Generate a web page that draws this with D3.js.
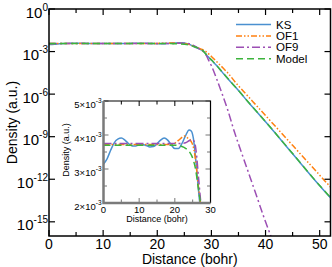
<!DOCTYPE html>
<html>
<head>
<meta charset="utf-8">
<script src="https://cdn.jsdelivr.net/npm/d3@7"></script>
<style>
  body { margin: 0; background: #fff; }
  svg { display: block; font-family: "Liberation Sans", Arial, sans-serif; }
  .frame { fill: none; stroke: #000; stroke-width: 1.5; }
  .tick { stroke: #000; stroke-width: 1.2; }
  .curve { fill: none; stroke-width: 1.5; }
</style>
</head>
<body>
<script>
// Density profiles (distance in bohr, density in a.u.)
const ksX = [0, 1, 2, 3, 4, 5, 6, 7, 8, 9, 10, 11, 12, 13, 14, 15, 16, 17, 18, 19, 20, 21, 22, 23, 24, 24.6, 25.2, 25.8, 26.4, 27, 27.5, 28, 28.5, 29, 29.7, 30, 31, 32, 33, 35, 37, 40, 45, 50, 52];
const ksY = [3.15e-3, 3.30e-3, 3.55e-3, 3.77e-3, 3.88e-3, 3.91e-3, 3.85e-3, 3.75e-3, 3.68e-3, 3.68e-3, 3.71e-3, 3.72e-3, 3.69e-3, 3.65e-3, 3.66e-3, 3.74e-3, 3.85e-3, 3.91e-3, 3.85e-3, 3.71e-3, 3.60e-3, 3.60e-3, 3.75e-3, 3.98e-3, 4.15e-3, 4.12e-3, 3.90e-3, 3.35e-3, 2.65e-3, 2.0e-3, 1.68e-3, 1.38e-3, 1.12e-3, 6.3e-4, 3.3e-4, 2.5e-4, 1.0e-4, 3.55e-5, 1.26e-5, 1.78e-6, 2.24e-7, 1.12e-8, 6.3e-11, 3.55e-13, 5.0e-14];

const of1X = [0, 5, 10, 15, 19, 20, 21, 22, 22.8, 23.5, 24.5, 25.3, 26, 26.6, 27.2, 28, 29, 29.7, 30, 31, 32.2, 33, 34.6, 36, 38, 40, 45, 50, 52];
const of1Y = [3.72e-3, 3.72e-3, 3.72e-3, 3.72e-3, 3.72e-3, 3.76e-3, 3.84e-3, 3.93e-3, 3.97e-3, 3.92e-3, 3.82e-3, 3.6e-3, 3.1e-3, 2.5e-3, 2.0e-3, 1.55e-3, 1.0e-3, 5.8e-4, 4.5e-4, 1.9e-4, 6.6e-5, 3.2e-5, 5.75e-6, 1.48e-6, 2.14e-7, 3.1e-8, 2.45e-10, 1.95e-12, 2.8e-13];

const of9X = [0, 5, 10, 15, 20, 22, 23, 24, 24.8, 25.5, 26, 26.6, 27.2, 27.7, 28, 28.5, 29, 29.5, 30, 31, 32, 33, 34.2, 36, 38, 40, 41.5];
const of9Y = [3.75e-3, 3.75e-3, 3.75e-3, 3.75e-3, 3.75e-3, 3.75e-3, 3.77e-3, 3.83e-3, 3.87e-3, 3.8e-3, 3.5e-3, 2.8e-3, 2.1e-3, 1.6e-3, 1.35e-3, 1.0e-3, 5.8e-4, 2.4e-4, 1.0e-4, 1.1e-5, 1.0e-6, 8.0e-8, 2.5e-9, 2.5e-11, 1.6e-13, 1.0e-15, 3.0e-17];

const modelX = [0, 5, 10, 15, 20, 21, 22, 23, 24, 25, 25.8, 26.5, 27.2, 27.7, 28.2, 29, 29.7, 30, 31, 32, 33, 35, 37, 40, 45, 50, 52];
const modelY = [3.70e-3, 3.70e-3, 3.70e-3, 3.70e-3, 3.70e-3, 3.69e-3, 3.66e-3, 3.61e-3, 3.52e-3, 3.32e-3, 3.0e-3, 2.5e-3, 2.0e-3, 1.65e-3, 1.35e-3, 6.6e-4, 3.4e-4, 2.6e-4, 1.03e-4, 3.6e-5, 1.3e-5, 1.8e-6, 2.3e-7, 1.15e-8, 6.5e-11, 3.6e-13, 5.2e-14];

const series = [
  { name: "KS", x: ksX, y: ksY, color: "#4a90d0", dash: null },
  { name: "OF1", x: of1X, y: of1Y, color: "#ff8010", dash: "6,2,1.5,2,1.5,2" },
  { name: "OF9", x: of9X, y: of9Y, color: "#9c4fb4", dash: "8,3,2,3" },
  { name: "Model", x: modelX, y: modelY, color: "#3cb43c", dash: "7,4" },
];

const xTicks = [0, 10, 20, 30, 40, 50];
const yTickExps = [0, -3, -6, -9, -12, -15];
const insetXTicks = [0, 10, 20, 30];
const insetYTicks = [2e-3, 3e-3, 4e-3, 5e-3];

const width = 332, height = 267;
const svg = d3.select("body").append("svg")
  .attr("width", width)
  .attr("height", height);

// ---------- main panel ----------
const m = { left: 49, right: 330.5, top: 9, bottom: 236 };
const x = d3.scaleLinear().domain([0, 52]).range([m.left, m.right]);
const y = d3.scaleLog().domain([1e-16, 1]).range([m.bottom, m.top]);

svg.append("clipPath").attr("id", "clipMain")
  .append("rect")
  .attr("x", m.left).attr("y", m.top)
  .attr("width", m.right - m.left).attr("height", m.bottom - m.top);

const mainLine = d3.line().curve(d3.curveMonotoneX);

const mainG = svg.append("g").attr("clip-path", "url(#clipMain)");
series.forEach(s => {
  const pts = s.x.map((d, i) => [x(d), y(s.y[i])]);
  mainG.append("path")
    .attr("class", "curve")
    .attr("d", mainLine(pts))
    .attr("stroke", s.color)
    .attr("stroke-dasharray", s.dash);
});

// x ticks (every 5, inward, top and bottom)
const xMinor = d3.range(0, 53, 5);
xMinor.forEach(v => {
  const len = v % 10 === 0 ? 6 : 4;
  svg.append("line").attr("class", "tick")
    .attr("x1", x(v)).attr("x2", x(v))
    .attr("y1", m.bottom).attr("y2", m.bottom - len);
  svg.append("line").attr("class", "tick")
    .attr("x1", x(v)).attr("x2", x(v))
    .attr("y1", m.top).attr("y2", m.top + len);
});
yTickExps.forEach(e => {
  const yy = y(Math.pow(10, e));
  svg.append("line").attr("class", "tick")
    .attr("x1", m.left).attr("x2", m.left + 6)
    .attr("y1", yy).attr("y2", yy);
  svg.append("line").attr("class", "tick")
    .attr("x1", m.right).attr("x2", m.right - 6)
    .attr("y1", yy).attr("y2", yy);
});

svg.append("g")
  .selectAll("text")
  .data(xTicks)
  .join("text")
  .attr("x", d => x(d))
  .attr("y", 249)
  .attr("text-anchor", "middle")
  .attr("font-size", 14)
  .text(d => d);

const yLab = svg.append("g")
  .selectAll("text")
  .data(yTickExps)
  .join("text")
  .attr("x", 48)
  .attr("y", d => y(Math.pow(10, d)) + 8.5)
  .attr("text-anchor", "end")
  .attr("font-size", 15);
yLab.append("tspan").text("10");
yLab.append("tspan")
  .attr("font-size", 10)
  .attr("dy", -7)
  .text(d => d === 0 ? "0" : "-" + Math.abs(d));

svg.append("text")
  .attr("x", (m.left + m.right) / 2)
  .attr("y", 263.5)
  .attr("text-anchor", "middle")
  .attr("font-size", 14)
  .text("Distance (bohr)");

svg.append("text")
  .attr("transform", `translate(17,${(m.top + m.bottom) / 2}) rotate(-90)`)
  .attr("text-anchor", "middle")
  .attr("font-size", 14)
  .text("Density (a.u.)");

svg.append("rect").attr("class", "frame")
  .attr("x", m.left).attr("y", m.top)
  .attr("width", m.right - m.left).attr("height", m.bottom - m.top);

// legend
const legend = svg.append("g").attr("font-size", 11.5);
series.forEach((s, i) => {
  const ly = 24.5 + i * 11.4;
  legend.append("line")
    .attr("x1", 236).attr("x2", 271)
    .attr("y1", ly).attr("y2", ly)
    .attr("stroke", s.color)
    .attr("stroke-width", 1.5)
    .attr("stroke-dasharray", s.dash);
  legend.append("text")
    .attr("x", 276).attr("y", ly + 4)
    .text(s.name);
});

// ---------- inset ----------
const n = { left: 103.5, right: 210.5, top: 101, bottom: 203 };
const ix = d3.scaleLinear().domain([0, 30]).range([n.left, n.right]);
const iy = d3.scaleLinear().domain([2e-3, 5e-3]).range([n.bottom, n.top]);

svg.append("rect")
  .attr("x", n.left).attr("y", n.top)
  .attr("width", n.right - n.left).attr("height", n.bottom - n.top)
  .attr("fill", "#fff");

svg.append("clipPath").attr("id", "clipInset")
  .append("rect")
  .attr("x", n.left).attr("y", n.top)
  .attr("width", n.right - n.left).attr("height", n.bottom - n.top);

const insetLine = d3.line().curve(d3.curveMonotoneX);
const insetG = svg.append("g").attr("clip-path", "url(#clipInset)");
series.forEach(s => {
  const pts = s.x.filter(d => d <= 30.5).map((d, i) => [ix(d), iy(s.y[i])]);
  insetG.append("path")
    .attr("class", "curve")
    .attr("d", insetLine(pts))
    .attr("stroke", s.color)
    .attr("stroke-width", 1.3)
    .attr("stroke-dasharray", s.dash);
});

// inset ticks
d3.range(0, 31, 5).forEach(v => {
  const len = v % 10 === 0 ? 5 : 3.5;
  svg.append("line").attr("stroke", "#777").attr("stroke-width", 1)
    .attr("x1", ix(v)).attr("x2", ix(v))
    .attr("y1", n.bottom).attr("y2", n.bottom - len);
  svg.append("line").attr("stroke", "#000").attr("stroke-width", 1)
    .attr("x1", ix(v)).attr("x2", ix(v))
    .attr("y1", n.top).attr("y2", n.top + len);
});
d3.range(2e-3, 5.01e-3, 0.5e-3).forEach((v, i) => {
  const len = i % 2 === 0 ? 5 : 3.5;
  svg.append("line").attr("stroke", "#777").attr("stroke-width", 1)
    .attr("x1", n.left).attr("x2", n.left + len)
    .attr("y1", iy(v)).attr("y2", iy(v));
  svg.append("line").attr("stroke", "#777").attr("stroke-width", 1)
    .attr("x1", n.right).attr("x2", n.right - len)
    .attr("y1", iy(v)).attr("y2", iy(v));
});

// inset frame: gray left/bottom, black top/right
svg.append("path")
  .attr("d", `M${n.left},${n.top}H${n.right}V${n.bottom}`)
  .attr("fill", "none").attr("stroke", "#000").attr("stroke-width", 1.2);
svg.append("path")
  .attr("d", `M${n.left},${n.top}V${n.bottom}H${n.right}`)
  .attr("fill", "none").attr("stroke", "#7a7a7a").attr("stroke-width", 2.5);

svg.append("g")
  .selectAll("text")
  .data(insetXTicks)
  .join("text")
  .attr("x", d => ix(d))
  .attr("y", 213)
  .attr("text-anchor", "middle")
  .attr("font-size", 9.5)
  .text(d => d);

const iyLab = svg.append("g")
  .selectAll("text")
  .data(insetYTicks)
  .join("text")
  .attr("x", 101.5)
  .attr("y", d => iy(d) + 6.5)
  .attr("text-anchor", "end")
  .attr("font-size", 9.5);
iyLab.append("tspan").text(d => Math.round(d * 1000) + "\u00d710");
iyLab.append("tspan")
  .attr("font-size", 6.5)
  .attr("dy", -5)
  .text("-3");

svg.append("text")
  .attr("x", (n.left + n.right) / 2)
  .attr("y", 221.5)
  .attr("text-anchor", "middle")
  .attr("font-size", 9)
  .text("Distance (bohr)");

svg.append("text")
  .attr("transform", `translate(69,${(n.top + n.bottom) / 2 - 2}) rotate(-90)`)
  .attr("text-anchor", "middle")
  .attr("font-size", 9)
  .text("Density (a.u.)");
</script>
</body>
</html>
